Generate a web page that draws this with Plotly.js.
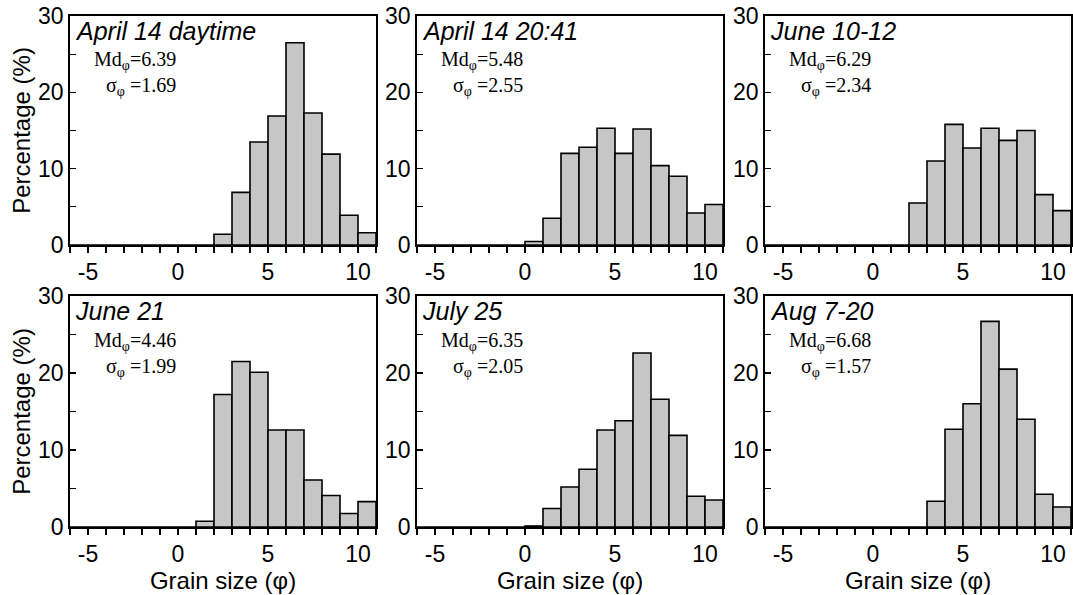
<!DOCTYPE html>
<html>
<head>
<meta charset="utf-8">
<script src="https://cdn.plot.ly/plotly-3.0.1.min.js"></script>
<style>html,body{margin:0;padding:0;background:#fff;}#chart{width:1073px;height:595px;}</style>
</head>
<body>
<div id="chart"></div>
<script>
// bin centres (phi), bins of width 1 from -6 to 11
const binCenters = [-5.5,-4.5,-3.5,-2.5,-1.5,-0.5,0.5,1.5,2.5,3.5,4.5,5.5,6.5,7.5,8.5,9.5,10.5];

const panelTitles = ["April 14 daytime","April 14 20:41","June 10-12","June 21","July 25","Aug 7-20"];
const medians = ["6.39","5.48","6.29","4.46","6.35","6.68"];
const sigmas = ["1.69","2.55","2.34","1.99","2.05","1.57"];

const april14Day  = [0,0,0,0,0,0,0,0,1.4,6.9,13.5,16.9,26.5,17.3,11.9,3.9,1.6];
const april14Night= [0,0,0,0,0,0,0.45,3.5,12.0,12.8,15.3,12.0,15.2,10.4,9.0,4.2,5.3];
const june10_12   = [0,0,0,0,0,0,0,0,5.5,11.0,15.8,12.7,15.3,13.7,15.0,6.6,4.5];
const june21      = [0,0,0,0,0,0,0,0.75,17.2,21.5,20.1,12.6,12.6,6.1,4.1,1.75,3.3];
const july25      = [0,0,0,0,0,0,0.13,2.4,5.2,7.5,12.6,13.8,22.6,16.6,11.9,4.0,3.5];
const aug7_20     = [0,0,0,0,0,0,0,0,0,3.35,12.7,16.0,26.7,20.5,14.0,4.25,2.6];

const seriesList = [april14Day, april14Night, june10_12, june21, july25, aug7_20];

const xTickVals = [-6,-5,-4,-3,-2,-1,0,1,2,3,4,5,6,7,8,9,10,11];
const xTickText = ["","-5","","","","","0","","","","","5","","","","","10",""];
const yTickVals = [0,5,10,15,20,25,30];
const yTickText = ["0","","10","","20","","30"];

const W = 1073, H = 595;
// pixel geometry of panels
const colsPx = [[70,376],[417,723],[765,1071]];
const rowsPx = [[16,245],[296,527]];

const SANS = "Liberation Sans, Arial, sans-serif";
const SERIF = "Liberation Serif, Times New Roman, serif";
const PHI = "\u03c6";

const data = [];
const layout = {
  width: W, height: H,
  margin: {l:0,r:0,t:0,b:0},
  paper_bgcolor: "#fff", plot_bgcolor: "#fff",
  showlegend: false,
  bargap: 0,
  annotations: [],
  font: {family: SANS, color: "#000"}
};

for (let i = 0; i < 6; i++) {
  const r = Math.floor(i/3), c = i % 3;
  const n = i === 0 ? "" : String(i+1);
  const xa = "x" + n, ya = "y" + n;
  data.push({
    type: "bar",
    x: binCenters,
    y: seriesList[i],
    width: 1,
    xaxis: xa, yaxis: ya,
    marker: {color: "#c6c6c6", line: {color: "#000", width: 1.6}},
    hoverinfo: "x+y"
  });
  const xd = [colsPx[c][0]/W, colsPx[c][1]/W];
  const yd = [1 - rowsPx[r][1]/H, 1 - rowsPx[r][0]/H];
  layout["xaxis" + n] = {
    domain: xd, range: [-6, 11], anchor: ya,
    tickmode: "array", tickvals: xTickVals, ticktext: xTickText,
    ticks: "outside", ticklen: 6, tickwidth: 1.2, tickcolor: "#000",
    showline: true, linecolor: "#000", linewidth: 1.8, mirror: true,
    showgrid: false, zeroline: false,
    tickfont: {family: SANS, size: 23, color: "#000"},
    title: r === 1 ? {text: "Grain size (" + PHI + ")", font: {family: SANS, size: 24, color: "#000"}, standoff: 2} : {text: ""}
  };
  layout["yaxis" + n] = {
    domain: yd, range: [0, 30], anchor: xa,
    tickmode: "array", tickvals: yTickVals, ticktext: yTickText,
    ticks: "inside", ticklen: 6, tickwidth: 1.2, tickcolor: "#000",
    showline: true, linecolor: "#000", linewidth: 1.8, mirror: true,
    showgrid: false, zeroline: false,
    tickfont: {family: SANS, size: 23, color: "#000"},
    title: c === 0 ? {text: "Percentage (%)", font: {family: SANS, size: 24, color: "#000"}, standoff: 1} : {text: ""}
  };
  const pw = colsPx[c][1] - colsPx[c][0];
  const ph = rowsPx[r][1] - rowsPx[r][0];
  layout.annotations.push({
    xref: xa + " domain", yref: ya + " domain",
    x: 3/pw, y: 1 - 15/ph, xanchor: "left", yanchor: "middle",
    text: "<i>" + panelTitles[i] + "</i>", showarrow: false,
    font: {family: SANS, size: 25, color: "#000"}
  });
  layout.annotations.push({
    xref: xa + " domain", yref: ya + " domain",
    x: 108/pw, y: 1 - 58/ph, xanchor: "right", yanchor: "middle", align: "right",
    text: "Md<sub>" + PHI + "</sub>=" + medians[i] + "<br>\u03c3<sub>" + PHI + "</sub> =" + sigmas[i],
    showarrow: false,
    font: {family: SERIF, size: 20, color: "#000"}
  });
}

Plotly.newPlot("chart", data, layout, {displayModeBar: false, staticPlot: true});
</script>
</body>
</html>
